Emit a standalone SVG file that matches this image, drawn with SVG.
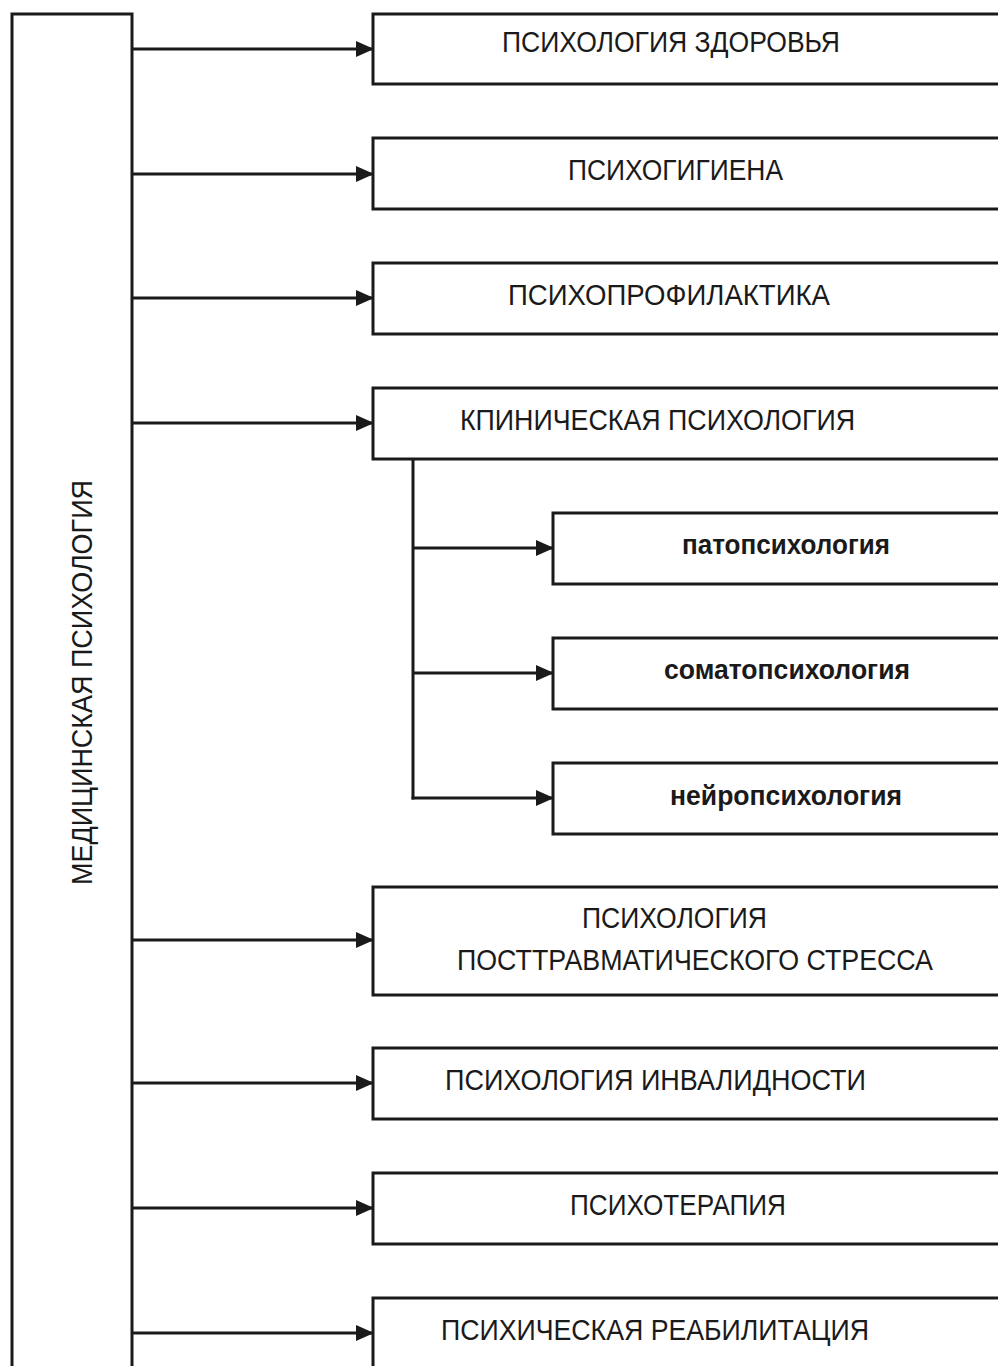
<svg xmlns="http://www.w3.org/2000/svg" width="998" height="1366" viewBox="0 0 998 1366">
<style>
.box{fill:#fff;stroke:#1a1a1a;stroke-width:3}
.ln{stroke:#1a1a1a;stroke-width:3;fill:none}
.t{font-family:"Liberation Sans",Arial,sans-serif;font-size:30px;fill:#1a1a1a;text-anchor:start}
.s{font-family:"Liberation Sans",Arial,sans-serif;font-size:28px;font-weight:bold;fill:#1a1a1a}
</style>
<defs>
<marker id="ah" markerWidth="18" markerHeight="16" refX="17" refY="8" orient="auto" markerUnits="userSpaceOnUse">
<path d="M0,0 L18,8 L0,16 Z" fill="#1a1a1a"/>
</marker>
</defs>
<rect width="998" height="1366" fill="#fff"/>
<g id="root">
<rect class="box" x="12" y="14" width="120" height="1370"/>
<text class="t" transform="translate(92,885) rotate(-90)" textLength="405" lengthAdjust="spacingAndGlyphs">МЕДИЦИНСКАЯ ПСИХОЛОГИЯ</text>
</g>
<g id="connectors">
<line class="ln" x1="132" y1="49" x2="373" y2="49" marker-end="url(#ah)"/>
<line class="ln" x1="132" y1="174" x2="373" y2="174" marker-end="url(#ah)"/>
<line class="ln" x1="132" y1="298" x2="373" y2="298" marker-end="url(#ah)"/>
<line class="ln" x1="132" y1="423" x2="373" y2="423" marker-end="url(#ah)"/>
<line class="ln" x1="132" y1="940" x2="373" y2="940" marker-end="url(#ah)"/>
<line class="ln" x1="132" y1="1083" x2="373" y2="1083" marker-end="url(#ah)"/>
<line class="ln" x1="132" y1="1208" x2="373" y2="1208" marker-end="url(#ah)"/>
<line class="ln" x1="132" y1="1333" x2="373" y2="1333" marker-end="url(#ah)"/>
<line class="ln" x1="413" y1="459" x2="413" y2="799.5"/>
<line class="ln" x1="413" y1="548" x2="553" y2="548" marker-end="url(#ah)"/>
<line class="ln" x1="413" y1="673" x2="553" y2="673" marker-end="url(#ah)"/>
<line class="ln" x1="411.5" y1="798" x2="553" y2="798" marker-end="url(#ah)"/>
</g>
<g id="n1"><rect class="box" x="373" y="14" width="640" height="70"/><text class="t" x="502" y="52" textLength="338" lengthAdjust="spacingAndGlyphs">ПСИХОЛОГИЯ ЗДОРОВЬЯ</text></g>
<g id="n2"><rect class="box" x="373" y="138" width="640" height="71"/><text class="t" x="568" y="180" textLength="215" lengthAdjust="spacingAndGlyphs">ПСИХОГИГИЕНА</text></g>
<g id="n3"><rect class="box" x="373" y="263" width="640" height="71"/><text class="t" x="508" y="305" textLength="322" lengthAdjust="spacingAndGlyphs">ПСИХОПРОФИЛАКТИКА</text></g>
<g id="n4"><rect class="box" x="373" y="388" width="640" height="71"/><text class="t" x="460" y="430" textLength="395" lengthAdjust="spacingAndGlyphs">КПИНИЧЕСКАЯ ПСИХОЛОГИЯ</text></g>
<g id="n4a"><rect class="box" x="553" y="513" width="460" height="71"/><text class="s" x="682" y="554" textLength="208" lengthAdjust="spacingAndGlyphs">патопсихология</text></g>
<g id="n4b"><rect class="box" x="553" y="638" width="460" height="71"/><text class="s" x="664" y="679" textLength="246" lengthAdjust="spacingAndGlyphs">соматопсихология</text></g>
<g id="n4c"><rect class="box" x="553" y="763" width="460" height="71"/><text class="s" x="670" y="805" textLength="232" lengthAdjust="spacingAndGlyphs">нейропсихология</text></g>
<g id="n5"><rect class="box" x="373" y="887" width="640" height="108"/><text class="t" x="582" y="928" textLength="185" lengthAdjust="spacingAndGlyphs">ПСИХОЛОГИЯ</text><text class="t" x="457" y="970" textLength="476" lengthAdjust="spacingAndGlyphs">ПОСТТРАВМАТИЧЕСКОГО СТРЕССА</text></g>
<g id="n6"><rect class="box" x="373" y="1048" width="640" height="71"/><text class="t" x="445" y="1090" textLength="421" lengthAdjust="spacingAndGlyphs">ПСИХОЛОГИЯ ИНВАЛИДНОСТИ</text></g>
<g id="n7"><rect class="box" x="373" y="1173" width="640" height="71"/><text class="t" x="570" y="1215" textLength="216" lengthAdjust="spacingAndGlyphs">ПСИХОТЕРАПИЯ</text></g>
<g id="n8"><rect class="box" x="373" y="1298" width="640" height="90"/><text class="t" x="441" y="1340" textLength="428" lengthAdjust="spacingAndGlyphs">ПСИХИЧЕСКАЯ РЕАБИЛИТАЦИЯ</text></g>
</svg>
